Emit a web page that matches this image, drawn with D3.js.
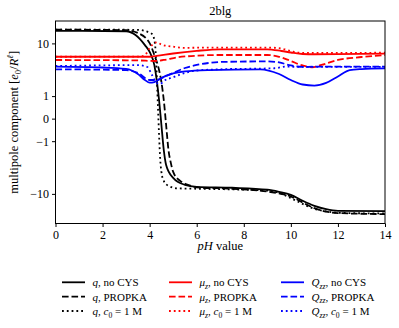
<!DOCTYPE html>
<html><head><meta charset="utf-8">
<script src="https://cdn.jsdelivr.net/npm/d3@7"></script>
<style>body{margin:0;background:#fff} svg{display:block} text{font-family:"Liberation Serif","DejaVu Serif",serif;fill:#000}</style>
</head><body><svg id="c" width="399" height="328"></svg>
<script>
// ---- data ----
const xTicks = [0, 2, 4, 6, 8, 10, 12, 14];
const yTicks = [-10, -1, 0, 1, 10];
const yTickLabels = ["\u221210", "\u22121", "0", "1", "10"];

const pH_qNoCys = [0, 3.0, 3.4, 3.8, 4.0, 4.2, 4.3, 4.4, 4.5, 4.6, 4.7, 5.0, 5.5, 6.0, 7.5, 9.0, 9.5, 10.0, 10.5, 11.0, 11.5, 12.0, 14];
const qNoCys    = [15.6, 15.4, 13.5, 9.4, 7.3, 4.4, 2.34, 0.77, -0.21, -1.64, -3.27, -5.5, -7.18, -7.74, -8.0, -8.6, -9.3, -10.35, -12.8, -15.3, -17.2, -18.2, -18.4];

const pH_qPropka = [0, 3.0, 3.5, 4.0, 4.2, 4.4, 4.5, 4.6, 4.7, 4.8, 4.9, 5.0, 5.3, 5.7, 6.0, 7.5, 9.0, 10.0, 10.5, 11.0, 11.5, 12.0, 14];
const qPropka    = [16.3, 16.0, 14.5, 10.1, 6.5, 3.6, 2.13, 0.77, -0.21, -1.64, -3.0, -4.36, -6.2, -7.3, -7.9, -8.3, -9.19, -11.0, -13.6, -16.6, -18.7, -19.7, -20.4];

const pH_qC0 = [0, 3.5, 4.0, 4.1, 4.2, 4.25, 4.3, 4.35, 4.4, 4.45, 4.5, 4.6, 4.8, 5.2, 6.0, 7.5, 9.0, 9.5, 10.0, 10.5, 11.0, 11.5, 12.0, 14];
const qC0    = [16.3, 16.2, 14.6, 14.0, 11.3, 7.85, 2.93, 0.52, -0.64, -2.6, -4.36, -6.2, -7.45, -8.18, -8.3, -8.5, -8.9, -9.6, -11.66, -14.3, -17.0, -18.5, -19.5, -20.0];

const pH_muNoCys = [0, 3.0, 4.0, 4.3, 5.0, 6.0, 7.0, 9.0, 9.6, 10.0, 10.5, 11.0, 12.0, 14];
const muNoCys    = [6.1, 6.1, 6.1, 6.3, 6.9, 7.6, 8.06, 8.06, 7.57, 7.16, 6.77, 6.7, 6.75, 6.85];

const pH_muPropka = [0, 3.5, 4.2, 4.6, 5.2, 6.0, 7.0, 9.0, 9.5, 10.0, 10.5, 10.9, 11.3, 12.0, 13.0, 14];
const muPropka    = [5.39, 5.3, 5.18, 5.39, 5.97, 6.35, 6.52, 6.52, 6.1, 5.18, 4.34, 4.04, 4.43, 5.39, 6.04, 6.5];

const pH_muC0 = [0, 3.6, 3.8, 4.0, 4.2, 4.3, 4.5, 5.0, 5.5, 6.0, 9.0, 9.5, 10.0, 10.3, 11.0, 14];
const muC0    = [6.1, 6.15, 6.5, 8.45, 10.1, 10.4, 9.6, 8.87, 8.5, 8.55, 8.6, 8.4, 7.57, 7.1, 7.05, 7.1];

const pH_QNoCys = [0, 2.0, 3.0, 3.5, 3.8, 4.0, 4.2, 4.5, 5.0, 5.5, 6.5, 8.7, 9.5, 10.0, 10.5, 11.0, 11.5, 12.0, 12.5, 13.0, 14];
const QNoCys    = [4.14, 4.0, 3.77, 3.05, 2.34, 2.06, 2.13, 2.56, 3.12, 3.4, 3.6, 3.72, 3.05, 2.34, 1.89, 1.79, 2.04, 2.74, 3.6, 3.75, 3.85];

const pH_QPropka = [0, 3.0, 3.5, 4.0, 4.3, 4.6, 5.0, 5.5, 6.0, 6.5, 7.0, 9.0, 9.5, 10.0, 10.5, 11.0, 14];
const QPropka    = [3.72, 3.6, 3.19, 2.34, 2.34, 2.68, 3.19, 3.92, 4.43, 4.79, 4.99, 5.1, 4.9, 4.34, 4.09, 4.14, 4.14];

const pH_QC0 = [0, 3.5, 3.9, 4.1, 4.3, 4.45, 4.6, 5.0, 5.5, 6.0, 7.0, 9.3, 9.8, 10.3, 14];
const QC0    = [4.25, 4.4, 4.09, 2.93, 2.03, 1.95, 2.24, 2.65, 3.19, 3.54, 3.72, 3.88, 4.14, 4.09, 4.1];

const seriesColors = ["#000000", "#ff0000", "#0000ff"];
const seriesStyles = ["solid", "dashed", "dotted"];

// ---- layout ----
const L = 55.5, R = 385, T = 21, B = 223.5;
const svg = d3.select("#c");

const x = d3.scaleLinear().domain([0, 14]).range([L, R]);
const y = d3.scaleSymlog().constant(0.9).domain([-28.2, 22]).range([B, T]);

const LW = 1.8;
const dashFor = s => s === "dashed" ? "6.6,2.9" : s === "dotted" ? "1.8,3.0" : null;

const series = [
  {x: pH_qNoCys, y: qNoCys, c: 0, s: 0},
  {x: pH_qPropka, y: qPropka, c: 0, s: 1},
  {x: pH_qC0, y: qC0, c: 0, s: 2},
  {x: pH_muNoCys, y: muNoCys, c: 1, s: 0},
  {x: pH_muPropka, y: muPropka, c: 1, s: 1},
  {x: pH_muC0, y: muC0, c: 1, s: 2},
  {x: pH_QNoCys, y: QNoCys, c: 2, s: 0},
  {x: pH_QPropka, y: QPropka, c: 2, s: 1},
  {x: pH_QC0, y: QC0, c: 2, s: 2},
];

svg.append("defs").append("clipPath").attr("id", "clip")
  .append("rect").attr("x", L).attr("y", T).attr("width", R - L).attr("height", B - T);

const line = d3.line().x(d => x(d[0])).y(d => y(d[1])).curve(d3.curveMonotoneX);
const gLines = svg.append("g").attr("clip-path", "url(#clip)");
series.forEach(sr => {
  const pts = sr.x.map((v, i) => [v, sr.y[i]]);
  gLines.append("path").attr("d", line(pts))
    .attr("fill", "none").attr("stroke", seriesColors[sr.c])
    .attr("stroke-width", LW).attr("stroke-dasharray", dashFor(seriesStyles[sr.s]));
});

// frame
svg.append("rect").attr("x", L).attr("y", T).attr("width", R - L).attr("height", B - T)
  .attr("fill", "none").attr("stroke", "#000").attr("stroke-width", 1);

const FS = 12;
// axes
const xAxis = d3.axisBottom(x).tickValues(xTicks).tickSize(3.5).tickPadding(3.5).tickFormat(d3.format("d"));
const gx = svg.append("g").attr("transform", `translate(0,${B})`).call(xAxis);
gx.select(".domain").remove();
gx.selectAll("text").attr("font-size", FS);

const yAxis = d3.axisLeft(y).tickValues(yTicks).tickSize(3.5).tickPadding(3).tickFormat((d, i) => yTickLabels[i]);
const gy = svg.append("g").attr("transform", `translate(${L},0)`).call(yAxis);
gy.select(".domain").remove();
gy.selectAll("text").attr("font-size", FS);

// rich text helper
function rich(sel, parts, fs) {
  parts.forEach(p => {
    const t = sel.append("tspan").text(p.t);
    if (p.i) t.attr("font-style", "italic");
    if (p.sub) t.attr("font-size", fs * 0.7).attr("dy", fs * 0.25);
    if (p.sup) t.attr("font-size", fs * 0.7).attr("dy", -fs * 0.38);
    if (p.back) t.attr("dy", p.back);
  });
  return sel;
}

// title
svg.append("text").attr("x", (L + R) / 2).attr("y", 14.5).attr("text-anchor", "middle")
  .attr("font-size", 12.5).text("2blg");

// x label
rich(svg.append("text").attr("x", (L + R) / 2).attr("y", 250).attr("text-anchor", "middle").attr("font-size", 12.5),
  [{t: "pH", i: true}, {t: " value"}], 12.5);

// y label
const fsY = 12.5;
rich(svg.append("text").attr("transform", `translate(17.5,${(T + B) / 2}) rotate(-90)`).attr("text-anchor", "middle").attr("font-size", fsY),
  [{t: "multipole component ["}, {t: "e", i: true}, {t: "0", sub: true}, {t: "/", back: -fsY * 0.25},
   {t: "R", i: true}, {t: "\u2113", sup: true, i: true}, {t: "]", back: fsY * 0.38}], fsY);

// legend
const fsL = 11;
const legendNames = [
  [[{t: "q", i: true}, {t: ", no CYS"}], [{t: "q", i: true}, {t: ", PROPKA"}], [{t: "q", i: true}, {t: ", "}, {t: "c", i: true}, {t: "0", sub: true}, {t: " = 1 M", back: -fsL * 0.25}]],
  [[{t: "\u03bc", i: true}, {t: "z", i: true, sub: true}, {t: ", no CYS", back: -fsL * 0.25}], [{t: "\u03bc", i: true}, {t: "z", i: true, sub: true}, {t: ", PROPKA", back: -fsL * 0.25}], [{t: "\u03bc", i: true}, {t: "z", i: true, sub: true}, {t: ", ", back: -fsL * 0.25}, {t: "c", i: true}, {t: "0", sub: true}, {t: " = 1 M", back: -fsL * 0.25}]],
  [[{t: "Q", i: true}, {t: "zz", i: true, sub: true}, {t: ", no CYS", back: -fsL * 0.25}], [{t: "Q", i: true}, {t: "zz", i: true, sub: true}, {t: ", PROPKA", back: -fsL * 0.25}], [{t: "Q", i: true}, {t: "zz", i: true, sub: true}, {t: ", ", back: -fsL * 0.25}, {t: "c", i: true}, {t: "0", sub: true}, {t: " = 1 M", back: -fsL * 0.25}]],
];
const colX = [62, 169, 281];
const rowY = [282.3, 296.7, 311];
legendNames.forEach((col, ci) => {
  col.forEach((parts, ri) => {
    svg.append("line").attr("x1", colX[ci]).attr("x2", colX[ci] + 23)
      .attr("y1", rowY[ri]).attr("y2", rowY[ri])
      .attr("stroke", seriesColors[ci]).attr("stroke-width", LW)
      .attr("stroke-dasharray", dashFor(seriesStyles[ri]));
    rich(svg.append("text").attr("x", colX[ci] + 30.5).attr("y", rowY[ri] + 3.8).attr("font-size", fsL), parts, fsL);
  });
});
</script></body></html>
